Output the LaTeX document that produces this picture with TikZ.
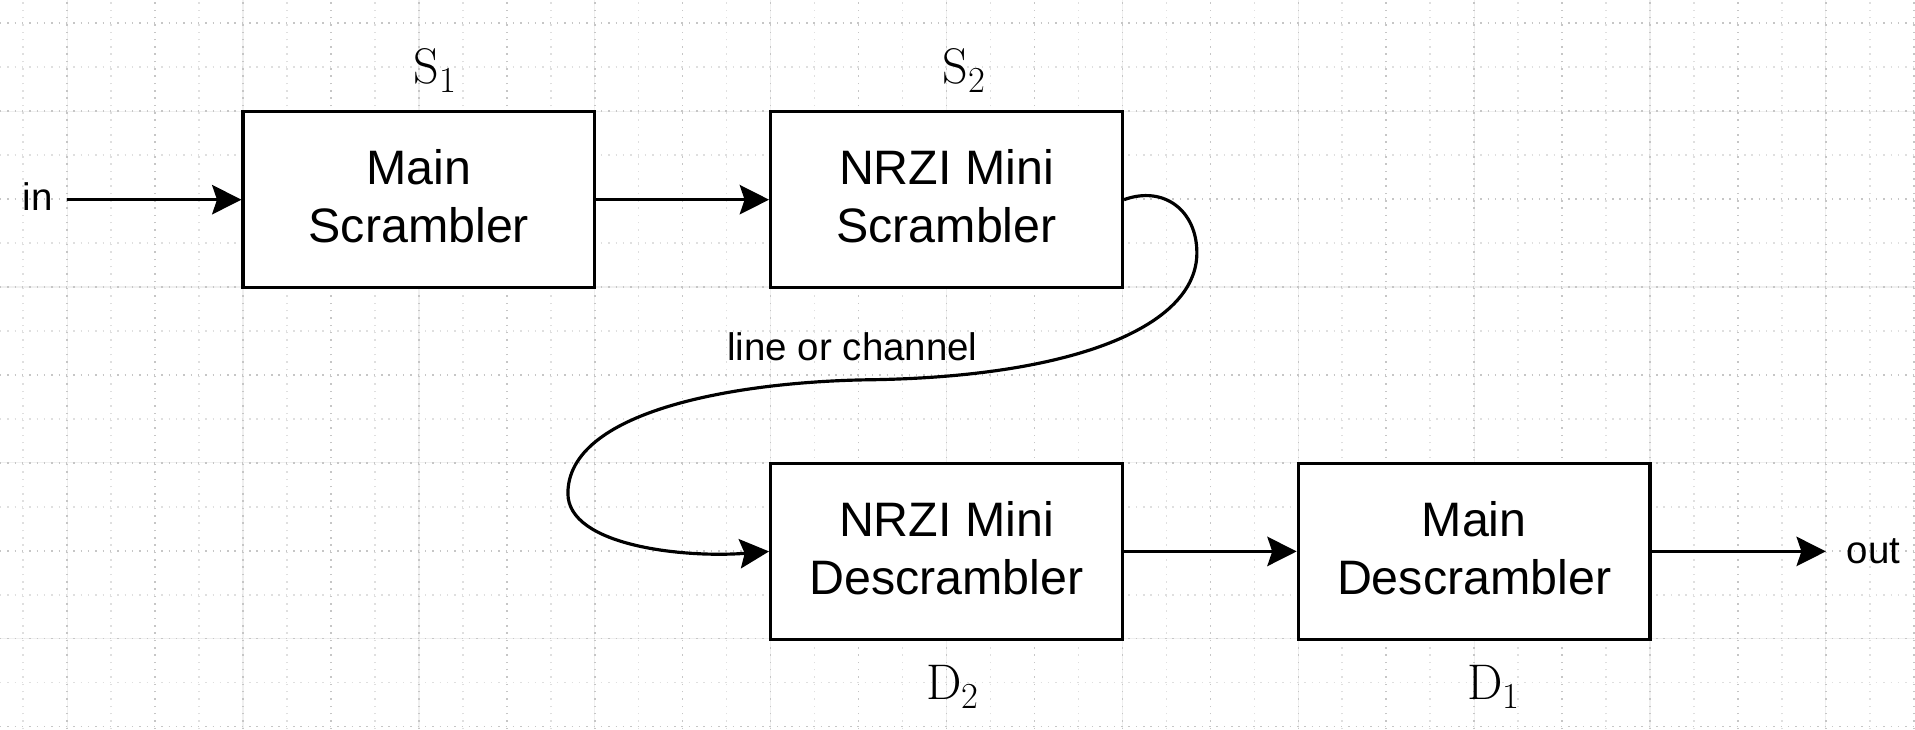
\documentclass[tikz,border=0pt]{standalone}
\usepackage{fontspec}
\newfontfamily\arialfont{Liberation Sans}
\usetikzlibrary{arrows.meta}

% letter with a large, lowered index digit
\newcommand{\blocktag}[2]{#1\raisebox{-7.5pt}{\fontsize{30}{30}\selectfont #2}}

\begin{document}
\begin{tikzpicture}[x=1pt,y=1pt,
  block/.style={draw, line width=2.6pt, fill=white, inner sep=0pt,
    minimum width=288pt, minimum height=144pt},
  blocktext/.style={font=\arialfont\fontsize{39.6}{47.5}\selectfont,
    align=center, inner sep=0pt, yshift=3pt},
  small/.style={font=\arialfont\fontsize{31.5}{38}\selectfont, inner sep=0pt},
  tag/.style={font=\fontsize{41}{41}\selectfont, inner sep=0pt},
  flow/.style={line width=2.6pt,
    -{Stealth[length=24pt, width=24pt, inset=4pt]}},
  densedot/.style={gray!45, line width=1.2pt, dash pattern=on 1.2pt off 4.8pt},
  sparsedot/.style={gray!25, line width=1.2pt, dash pattern=on 1.2pt off 4.8pt},
  faint/.style={gray!12, line width=1pt}
]
\useasboundingbox (0,0) rectangle (1568,597);
\fill[white] (0,0) rectangle (1568,597);

% background grid, 36pt cells
\foreach \k in {0,...,43} {
  \pgfmathtruncatemacro{\gx}{19+36*\k}
  \pgfmathtruncatemacro{\odd}{mod(\k,2)}
  \pgfmathtruncatemacro{\four}{mod(\k,4)}
  \ifnum\four=1 \draw[faint] (\gx,0) -- (\gx,597); \fi
  \ifnum\odd=1
    \draw[densedot] (\gx,0) -- (\gx,597);
  \else
    \draw[sparsedot] (\gx,0) -- (\gx,597);
  \fi
}
\foreach \k in {0,...,16} {
  \pgfmathtruncatemacro{\gy}{578-36*\k}
  \pgfmathtruncatemacro{\odd}{mod(\k,2)}
  \pgfmathtruncatemacro{\four}{mod(\k,4)}
  \ifnum\four=2 \draw[faint] (0,\gy) -- (1568,\gy); \fi
  \ifnum\odd=0
    \draw[densedot] (0,\gy) -- (1568,\gy);
  \else
    \draw[sparsedot] (0,\gy) -- (1568,\gy);
  \fi
}

% blocks
\node[block, label={[blocktext, name=s1t]center:Main\\Scrambler}] (s1) at (343,433.5) {};
\node[block, label={[blocktext, name=s2t]center:NRZI Mini\\Scrambler}] (s2) at (775,433.5) {};
\node[block, label={[blocktext, name=d2t]center:NRZI Mini\\Descrambler}] (d2) at (775,145.5) {};
\node[block, label={[blocktext, name=d1t]center:Main\\Descrambler}] (d1) at (1207,145.5) {};

% block tags
\node[tag, anchor=base] (s1l) at (356,529) {\blocktag{S}{1}};
\node[tag, anchor=base] (s2l) at (789,529) {\blocktag{S}{2}};
\node[tag, anchor=base] (d2l) at (780,24) {\blocktag{D}{2}};
\node[tag, anchor=base] (d1l) at (1223,24) {\blocktag{D}{1}};

% input and output
\node[small, anchor=base] (inl) at (31,425) {in};
\coordinate (instart) at (55,433.5);
\coordinate (outend) at (1495,145.5);
\node[small, anchor=base west] (outl) at (1512,136) {out};

\draw[flow] (instart) -- (s1.west);
\draw[flow] (s1.east) -- (s2.west);
\draw[flow] (d2.east) -- (d1.west);
\draw[flow] (d1.east) -- (outend);

% channel between scrambler and descrambler
\coordinate (c1) at (980,390);
\coordinate (c2) at (709,286);
\coordinate (c3) at (465,193);
\draw[flow] (s2.east) to[out=20, in=90, looseness=1.2] (c1)
  .. controls +(0,-60) and (880,288) .. (c2)
  .. controls (600,284) and (465,260) .. (c3)
  .. controls (465,150) and (560,140) .. (d2.west);
\node[small] (chl) at (698,313) {line or channel};
\end{tikzpicture}
\end{document}
